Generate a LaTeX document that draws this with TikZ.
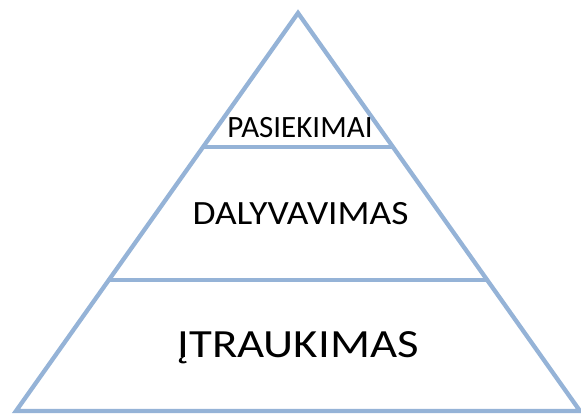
\documentclass[tikz,border=0pt]{standalone}
\usepackage{fontspec}
\setmainfont{Carlito}
\usetikzlibrary{calc}
\definecolor{pyr}{HTML}{95B3D7}
\begin{document}
\begin{tikzpicture}[x=1pt,y=-1pt,
  edge/.style={draw=pyr,line width=4.3pt,line join=miter},
  lbl/.style={anchor=base,inner sep=0pt,text=black}]
\useasboundingbox (0,0) rectangle (581,414);
\coordinate (apex) at (298,13);
\coordinate (bl) at (16,411);
\coordinate (br) at (580,411);
\coordinate (l1) at ($(apex)!0.3367!(bl)$);
\coordinate (r1) at ($(apex)!0.3367!(br)$);
\coordinate (l2) at ($(apex)!0.6709!(bl)$);
\coordinate (r2) at ($(apex)!0.6709!(br)$);
\draw[edge] (apex) -- (bl) -- (br) -- cycle;
\draw[edge] (l1) -- (r1);
\draw[edge] (l2) -- (r2);
\node[lbl,font=\fontsize{31}{31}\selectfont] (t1) at (300,138) {PASIEKIMAI};
\node[lbl,font=\fontsize{34}{34}\selectfont,xscale=1.10] (t2) at (300.5,224.3) {DALYVAVIMAS};
\node[lbl,font=\fontsize{40}{40}\selectfont,xscale=1.17] (t3) at (298,357.5) {ĮTRAUKIMAS};
\end{tikzpicture}
\end{document}
